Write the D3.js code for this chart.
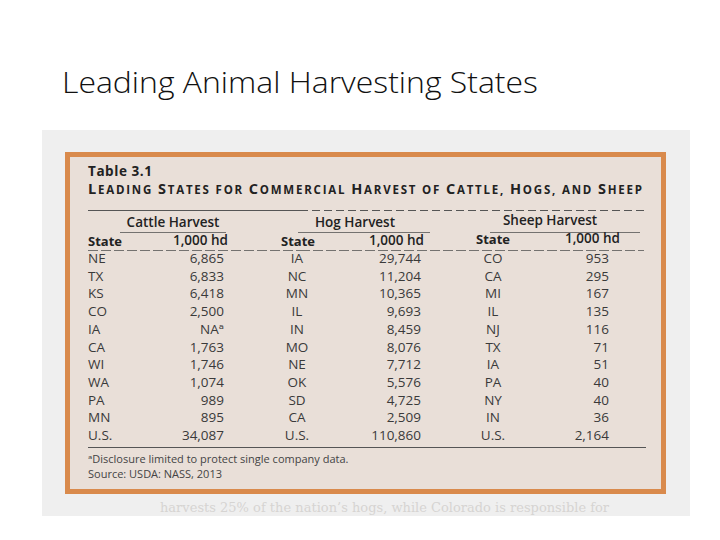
<!DOCTYPE html>
<html>
<head>
<meta charset="utf-8">
<script src="https://cdn.jsdelivr.net/npm/d3@7"></script>
<style>
  body { margin: 0; background: #fff; }
  svg { display: block; }
</style>
</head>
<body>
<div id="slide"></div>
<script>
(function() {
	let slideTitle = 'Leading Animal Harvesting States';
	let groups = ['Cattle Harvest', 'Hog Harvest', 'Sheep Harvest'];
	let cattleStates = ['NE', 'TX', 'KS', 'CO', 'IA', 'CA', 'WI', 'WA', 'PA', 'MN', 'U.S.'];
	let cattleValues = [6865, 6833, 6418, 2500, null, 1763, 1746, 1074, 989, 895, 34087];
	let hogStates = ['IA', 'NC', 'MN', 'IL', 'IN', 'MO', 'NE', 'OK', 'SD', 'CA', 'U.S.'];
	let hogValues = [29744, 11204, 10365, 9693, 8459, 8076, 7712, 5576, 4725, 2509, 110860];
	let sheepStates = ['CO', 'CA', 'MI', 'IL', 'NJ', 'TX', 'IA', 'PA', 'NY', 'IN', 'U.S.'];
	let sheepValues = [953, 295, 167, 135, 116, 71, 51, 40, 40, 36, 2164];
	let footnotes = ['\u1D43Disclosure limited to protect single company data.', 'Source: USDA: NASS, 2013'];

	let fmt = d3.format(',');
	let font = '"Open Sans", "DejaVu Sans", sans-serif';

	let svg = d3.select('#slide')
		.append('svg')
		.attr('width', 720)
		.attr('height', 540);

	// slide title
	svg.append('text')
		.attr('x', 62)
		.attr('y', 93)
		.attr('font-family', '"Open Sans", sans-serif')
		.attr('font-weight', 300)
		.attr('font-size', 29)
		.attr('textLength', 476)
		.attr('lengthAdjust', 'spacingAndGlyphs')
		.attr('fill', '#111')
		.text(slideTitle);

	// scanned page background
	svg.append('rect')
		.attr('x', 42).attr('y', 130)
		.attr('width', 648).attr('height', 386)
		.attr('fill', '#efefef');

	// faint bleed-through text from the scan
	svg.append('text')
		.attr('x', 160).attr('y', 512)
		.attr('font-family', '"DejaVu Serif", serif')
		.attr('font-size', 13)
		.attr('fill', '#d6d4d2')
		.text('harvests 25% of the nation\u2019s hogs, while Colorado is responsible for');

	// orange framed table box
	svg.append('rect')
		.attr('x', 67.5).attr('y', 154.5)
		.attr('width', 596).attr('height', 337)
		.attr('fill', '#e9dfd8')
		.attr('stroke', '#d98a4c')
		.attr('stroke-width', 5);

	let g = svg.append('g').attr('font-family', font).attr('fill', '#222');

	g.append('text')
		.attr('x', 88).attr('y', 175.5)
		.attr('font-size', 13.5).attr('font-weight', 700)
		.attr('textLength', 64)
		.text('Table 3.1');

	// small caps heading
	let head = g.append('text')
		.attr('x', 88).attr('y', 194)
		.attr('font-weight', 700)
		.attr('textLength', 554)
		.attr('lengthAdjust', 'spacing');
	let words = 'Leading States for Commercial Harvest of Cattle, Hogs, and Sheep'.split(' ');
	words.forEach((w, i) => {
		let lower = ['for', 'of', 'and'].includes(w);
		let first = lower ? '' : w[0];
		let rest = (lower ? w : w.slice(1)).toUpperCase();
		if (first) head.append('tspan').attr('font-size', 14.5).text(first);
		head.append('tspan').attr('font-size', 11.5).text(rest + (i < words.length - 1 ? ' ' : ''));
	});

	let rule = (x1, x2, y, w, dash) => g.append('line')
		.attr('x1', x1).attr('x2', x2).attr('y1', y).attr('y2', y)
		.attr('stroke', '#555').attr('stroke-width', w)
		.attr('stroke-dasharray', dash || null);

	rule(88, 300, 210.5, 1);
	rule(300, 644, 210.5, 1, '8,4');

	// column positions
	let cols = [
		{ states: cattleStates, values: cattleValues, sx: 88, anchor: 'start', vx: 224, hx: 88, hvx: 228, gx: 173, ul: [120, 226] },
		{ states: hogStates, values: hogValues, sx: 297, anchor: 'middle', vx: 421, hx: 281, hvx: 424, gx: 355, ul: [298, 430] },
		{ states: sheepStates, values: sheepValues, sx: 493, anchor: 'middle', vx: 609, hx: 476, hvx: 620, gx: 550, ul: [490, 640] }
	];

	let y = d3.scaleBand()
		.domain(d3.range(cattleStates.length))
		.range([249, 444])
		.paddingInner(0);

	cols.forEach((c, i) => {
		let up = i === 2 ? 2 : 0;
		g.append('text')
			.attr('x', c.gx).attr('y', 227 - up)
			.attr('text-anchor', 'middle')
			.attr('font-size', 13.5).attr('font-weight', 600)
			.text(groups[i]);
		rule(c.ul[0], c.ul[1], 232.5, 0.8);
		g.append('text')
			.attr('x', c.hx).attr('y', 246 - up)
			.attr('font-size', 13).attr('font-weight', 700)
			.text('State');
		g.append('text')
			.attr('x', c.hvx).attr('y', 245 - up)
			.attr('text-anchor', 'end')
			.attr('font-size', 13.5).attr('font-weight', 600)
			.text('1,000 hd');

		let rows = g.append('g').selectAll('g')
			.data(c.states.map((s, k) => ({ s: s, v: c.values[k], k: k })))
			.join('g')
			.attr('transform', d => `translate(0,${y(d.k) + y.bandwidth() / 2 + 5})`)
			.attr('font-size', 13.5)
			.attr('fill', '#3a3a3a');
		rows.append('text')
			.attr('x', c.sx)
			.attr('text-anchor', c.anchor)
			.text(d => d.s);
		rows.append('text')
			.attr('x', c.vx)
			.attr('text-anchor', 'end')
			.text(d => d.v === null ? 'NA\u1D43' : fmt(d.v));
	});

	rule(88, 300, 250.5, 0.8, '10,3');
	rule(300, 644, 250.5, 0.8, '10,3');
	rule(88, 646, 447.5, 1.2);

	footnotes.forEach((t, i) => {
		g.append('text')
			.attr('x', 88).attr('y', 463 + i * 15)
			.attr('font-size', 11)
			.attr('fill', '#444')
			.text(t);
	});
})();
</script>
</body>
</html>
